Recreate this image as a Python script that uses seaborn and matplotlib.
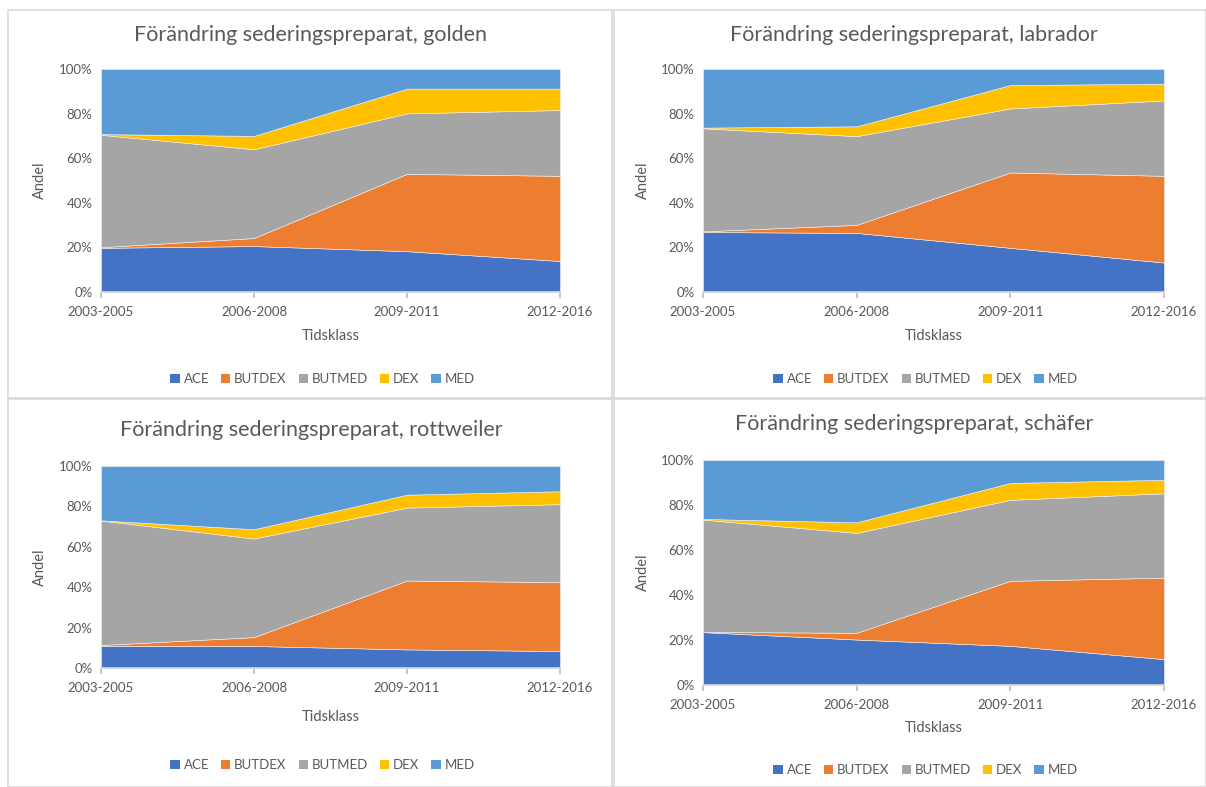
import matplotlib
matplotlib.use("Agg")
import matplotlib.pyplot as plt
from matplotlib.patches import Rectangle, Patch
from matplotlib.ticker import PercentFormatter
import seaborn as sns
import numpy as np

sns.set_theme(style="white")
plt.rcParams['font.family'] = ['Lato', 'DejaVu Sans']

categories = ["2003-2005", "2006-2008", "2009-2011", "2012-2016"]
series_names = ["ACE", "BUTDEX", "BUTMED", "DEX", "MED"]
colors = ["#4472C4", "#ED7D31", "#A5A5A5", "#FFC000", "#5B9BD5"]

# shares in percent per breed (ACE, BUTDEX, BUTMED, DEX, MED)
golden_ace = [19.8, 20.6, 18.3, 13.9]
golden_butdex = [0.3, 3.6, 34.7, 38.2]
golden_butmed = [50.4, 39.8, 27.1, 29.5]
golden_dex = [0.3, 6.0, 11.1, 9.6]
golden_med = [29.2, 30.0, 8.8, 8.8]

labrador_ace = [26.9, 26.5, 19.8, 13.2]
labrador_butdex = [0.3, 3.6, 33.8, 38.9]
labrador_butmed = [46.2, 39.8, 28.7, 33.8]
labrador_dex = [0.3, 4.4, 10.5, 7.5]
labrador_med = [26.3, 25.7, 7.2, 6.6]

rottweiler_ace = [11.0, 10.9, 9.2, 8.4]
rottweiler_butdex = [0.4, 4.4, 34.1, 34.1]
rottweiler_butmed = [61.6, 48.8, 36.1, 38.6]
rottweiler_dex = [0.1, 4.6, 6.4, 6.4]
rottweiler_med = [26.9, 31.3, 14.2, 12.5]

schafer_ace = [23.5, 20.2, 17.4, 11.5]
schafer_butdex = [0.1, 3.0, 28.9, 36.2]
schafer_butmed = [49.9, 44.4, 36.0, 37.5]
schafer_dex = [0.3, 4.7, 7.5, 6.0]
schafer_med = [26.2, 27.7, 10.2, 8.8]

panels = [
    ("Förändring sederingspreparat, golden",
     [golden_ace, golden_butdex, golden_butmed, golden_dex, golden_med]),
    ("Förändring sederingspreparat, labrador",
     [labrador_ace, labrador_butdex, labrador_butmed, labrador_dex, labrador_med]),
    ("Förändring sederingspreparat, rottweiler",
     [rottweiler_ace, rottweiler_butdex, rottweiler_butmed, rottweiler_dex, rottweiler_med]),
    ("Förändring sederingspreparat, schäfer",
     [schafer_ace, schafer_butdex, schafer_butmed, schafer_dex, schafer_med]),
]

W, H = 1206, 787
fig = plt.figure(figsize=(W / 100, H / 100), dpi=100)
fig.patch.set_facecolor("white")

def fx(x):
    return x / W

def fy(y):
    return 1 - y / H

# panel frames (pixel: x0, y0, x1, y1)
frames = [(8, 10, 612, 398), (614, 10, 1206, 398), (8, 399, 612, 787), (614, 399, 1206, 787)]
for (x0, y0, x1, y1) in frames:
    fig.patches.append(Rectangle((fx(x0), fy(y1)), fx(x1 - x0), (y1 - y0) / H,
                                 transform=fig.transFigure, fill=False,
                                 edgecolor="#D9D9D9", linewidth=1.2, zorder=0))

# plot area (x0, x1, y_top, y_bottom), title y, xlabel y, legend y, ylabel x
layout = [
    (101, 560, 69, 292, 35, 336, 379, 40),
    (703, 1164, 69, 292, 35, 336, 379, 643),
    (101, 560, 466, 668, 430, 717, 765, 40),
    (703, 1164, 460, 685, 424, 728, 770, 643),
]

grey = "#595959"
x = np.arange(len(categories))

for (title, vals), (x0, x1, yt, yb, ty, xly, ly, ylx) in zip(panels, layout):
    ax = fig.add_axes([fx(x0), fy(yb), fx(x1 - x0), (yb - yt) / H])
    data = np.array(vals, dtype=float)
    data = data / data.sum(axis=0) * 100
    ax.stackplot(x, data, colors=colors, edgecolor="#F2F2F2", linewidth=0.4)
    ax.set_xlim(0, len(categories) - 1)
    ax.set_ylim(0, 100)
    ax.set_yticks([0, 20, 40, 60, 80, 100])
    ax.yaxis.set_major_formatter(PercentFormatter(decimals=0))
    ax.set_xticks(x)
    ax.set_xticklabels(categories)
    ax.tick_params(axis="x", colors="#BFBFBF", labelcolor=grey, labelsize=9.5,
                   length=4, direction="out", pad=6, bottom=True)
    ax.tick_params(axis="y", labelcolor=grey, labelsize=9.5, length=0, pad=6)
    for side in ["top", "right", "left"]:
        ax.spines[side].set_visible(False)
    ax.spines["bottom"].set_color("#D9D9D9")
    ax.set_facecolor("white")
    ax.grid(False)
    cx = (x0 + x1) / 2
    tcx = (8 + 612) / 2 + 1 if x0 < 600 else (614 + 1206) / 2 + 4
    fig.text(fx(tcx), fy(ty), title,
             ha="center", va="center", fontsize=15.5, color=grey)
    fig.text(fx(cx), fy(xly), "Tidsklass", ha="center", va="center",
             fontsize=10.5, color=grey)
    fig.text(fx(ylx), fy((yt + yb) / 2), "Andel", ha="center", va="center",
             rotation=90, fontsize=10.5, color=grey)
    handles = [Patch(facecolor=c, edgecolor="none") for c in colors]
    fig.legend(handles, series_names, loc="center",
               bbox_to_anchor=(fx(cx - 8), fy(ly)), ncol=5, frameon=False,
               fontsize=9.5, labelcolor=grey, handlelength=0.7, handleheight=0.7,
               handletextpad=0.3, columnspacing=0.9)

fig.savefig("out.png", dpi=100, facecolor="white")
